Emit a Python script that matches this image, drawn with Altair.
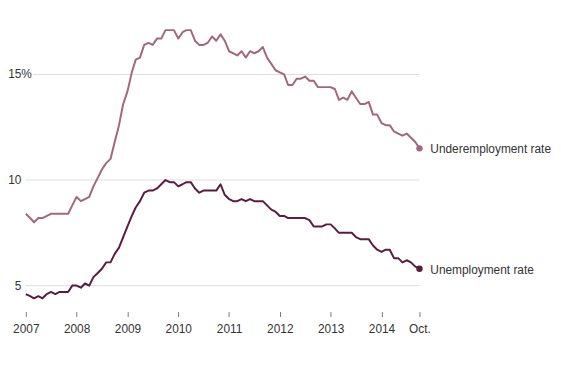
import altair as alt
import pandas as pd

# Monthly, Jan 2007 .. Oct 2014
months = pd.date_range("2007-01-01", "2014-10-01", freq="MS").strftime("%Y-%m-%dT00:00:00").tolist()

underemployment = [
    8.4, 8.2, 8.0, 8.2, 8.2, 8.3, 8.4, 8.4, 8.4, 8.4, 8.4, 8.8,
    9.2, 9.0, 9.1, 9.2, 9.7, 10.1, 10.5, 10.8, 11.0, 11.8, 12.6, 13.6,
    14.2, 15.1, 15.7, 15.8, 16.4, 16.5, 16.4, 16.7, 16.7, 17.1, 17.1, 17.1,
    16.7, 17.0, 17.1, 17.1, 16.6, 16.4, 16.4, 16.5, 16.8, 16.6, 16.9, 16.6,
    16.1, 16.0, 15.9, 16.1, 15.8, 16.1, 16.0, 16.1, 16.3, 15.8, 15.5, 15.2,
    15.1, 15.0, 14.5, 14.5, 14.8, 14.8, 14.9, 14.7, 14.7, 14.4, 14.4, 14.4,
    14.4, 14.3, 13.8, 13.9, 13.8, 14.2, 13.9, 13.6, 13.6, 13.7, 13.1, 13.1,
    12.7, 12.6, 12.6, 12.3, 12.2, 12.1, 12.2, 12.0, 11.8, 11.5,
]
unemployment = [
    4.6, 4.5, 4.4, 4.5, 4.4, 4.6, 4.7, 4.6, 4.7, 4.7, 4.7, 5.0,
    5.0, 4.9, 5.1, 5.0, 5.4, 5.6, 5.8, 6.1, 6.1, 6.5, 6.8, 7.3,
    7.8, 8.3, 8.7, 9.0, 9.4, 9.5, 9.5, 9.6, 9.8, 10.0, 9.9, 9.9,
    9.7, 9.8, 9.9, 9.9, 9.6, 9.4, 9.5, 9.5, 9.5, 9.5, 9.8, 9.3,
    9.1, 9.0, 9.0, 9.1, 9.0, 9.1, 9.0, 9.0, 9.0, 8.8, 8.6, 8.5,
    8.3, 8.3, 8.2, 8.2, 8.2, 8.2, 8.2, 8.1, 7.8, 7.8, 7.8, 7.9,
    7.9, 7.7, 7.5, 7.5, 7.5, 7.5, 7.3, 7.2, 7.2, 7.2, 6.9, 6.7,
    6.6, 6.7, 6.7, 6.3, 6.3, 6.1, 6.2, 6.1, 5.9, 5.8,
]

series_names = ["Underemployment rate", "Unemployment rate"]
series_colors = ["#a2677f", "#5c1c3e"]

y_ticks = [5, 10, 15]
y_tick_labels = ["5", "10", "15"]
x_tick_years = [2007, 2008, 2009, 2010, 2011, 2012, 2013, 2014]
x_tick_last = (2014, 10)

FONT = "Liberation Sans, Arial, sans-serif"
TEXT_COLOR = "#333333"
W, H = 398, 295

df = pd.DataFrame({
    "date": months * 2,
    "rate": underemployment + unemployment,
    "series": [series_names[0]] * len(months) + [series_names[1]] * len(months),
})
last = df[df["date"] == months[-1]]
grid = pd.DataFrame({"v": y_ticks, "label": y_tick_labels})

x_values = [alt.DateTime(year=y, month=1, date=1) for y in x_tick_years] + [
    alt.DateTime(year=x_tick_last[0], month=x_tick_last[1], date=1)
]
x_scale = alt.Scale(domain=[alt.DateTime(year=2007, month=1, date=1),
                            alt.DateTime(year=2014, month=10, date=1)])
y_scale = alt.Scale(domain=[3.77, 17.59], nice=False, zero=False)

x_enc = alt.X(
    "date:T", scale=x_scale, title=None,
    axis=alt.Axis(
        values=x_values,
        labelExpr="month(datum.value) == 9 ? 'Oct.' : timeFormat(datum.value, '%Y')",
        domain=False, grid=False, ticks=True, tickSize=5, tickColor="#777777",
        tickWidth=1, labelPadding=7, labelFontSize=12, labelColor=TEXT_COLOR,
        labelFont=FONT, labelFlush=False, labelOverlap=False,
    ),
)
y_enc = alt.Y("rate:Q", scale=y_scale, axis=None)
color_enc = alt.Color("series:N", scale=alt.Scale(domain=series_names, range=series_colors), legend=None)

grid_low = alt.Chart(grid).transform_filter("datum.v < 15").mark_rule(
    color="#dedede", strokeWidth=1
).encode(y=alt.Y("v:Q", scale=y_scale, axis=None), x=alt.value(0), x2=alt.value(W))

grid_top = alt.Chart(grid).transform_filter("datum.v == 15").mark_rule(
    color="#dedede", strokeWidth=1
).encode(y=alt.Y("v:Q", scale=y_scale, axis=None), x=alt.value(7), x2=alt.value(W))

ylabels = alt.Chart(grid).mark_text(
    align="right", baseline="middle", fontSize=12, font=FONT, color=TEXT_COLOR
).encode(y=alt.Y("v:Q", scale=y_scale, axis=None), x=alt.value(-4.5), text="label:N")

pct = alt.Chart(grid).transform_filter("datum.v == 15").mark_text(
    align="left", baseline="middle", fontSize=12, font=FONT, color=TEXT_COLOR, text="%"
).encode(y=alt.Y("v:Q", scale=y_scale, axis=None), x=alt.value(-4.5))

lines = alt.Chart(df).mark_line(strokeWidth=2, strokeJoin="round").encode(
    x=x_enc, y=y_enc, color=color_enc
)
dots = alt.Chart(last).mark_circle(size=42, opacity=1).encode(
    x=x_enc, y=y_enc, color=color_enc
)
labels = alt.Chart(last).mark_text(
    align="left", baseline="middle", dx=11, dy=1, fontSize=12, font=FONT, color=TEXT_COLOR
).encode(x=x_enc, y=y_enc, text="series:N")

chart = alt.layer(grid_low, grid_top, ylabels, pct, lines, dots, labels).properties(
    width=W, height=H,
    autosize=alt.AutoSizeParams(type="none"),
    padding={"left": 18, "top": 10, "right": 135, "bottom": 42},
).configure_view(stroke=None)

chart.save("out.html", embed_options={"renderer": "svg", "actions": False})
